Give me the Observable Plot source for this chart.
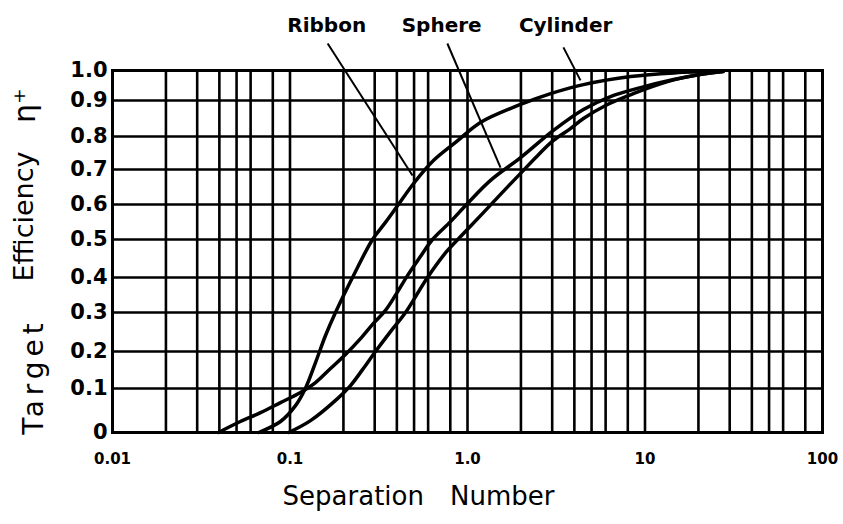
<!DOCTYPE html>
<html>
<head>
<meta charset="utf-8">
<script src="https://cdn.jsdelivr.net/npm/d3@7"></script>
<script src="https://cdn.jsdelivr.net/npm/@observablehq/plot@0.6"></script>
<style>
  body { margin: 0; background: #fff; }
  #chart svg { font-family: "DejaVu Sans", sans-serif; }
</style>
</head>
<body>
<div id="chart"></div>
<script>
// ---- data ----
const ribbonX = [0.0666, 0.0884, 0.1074, 0.122, 0.1392, 0.1585, 0.1804, 0.225, 0.2917, 0.345, 0.408, 0.497, 0.643, 0.856, 1.183, 1.99, 2.94, 4.5, 8.3, 14.6, 27.6];
const ribbonY = [0, 0.025, 0.061, 0.10, 0.170, 0.241, 0.30, 0.40, 0.50, 0.549, 0.60, 0.66, 0.727, 0.782, 0.839, 0.889, 0.923, 0.953, 0.98, 0.992, 0.998];

const sphereX = [0.0395, 0.0525, 0.0682, 0.0884, 0.1146, 0.1392, 0.1691, 0.2054, 0.2496, 0.2953, 0.345, 0.398, 0.459, 0.543, 0.635, 0.802, 1.0, 1.348, 1.99, 3.05, 4.5, 6.39, 9.43, 14.5, 20.5, 27.6];
const sphereY = [0, 0.025, 0.045, 0.068, 0.091, 0.116, 0.154, 0.192, 0.233, 0.272, 0.306, 0.354, 0.405, 0.455, 0.50, 0.551, 0.603, 0.669, 0.736, 0.817, 0.875, 0.913, 0.943, 0.97, 0.987, 0.997];

const cylinderX = [0.0982, 0.1305, 0.1852, 0.2193, 0.2562, 0.3031, 0.3684, 0.4475, 0.595, 0.7615, 0.9495, 1.199, 1.535, 1.99, 2.48, 3.05, 3.80, 4.5, 6.15, 8.61, 13.4, 20.5, 27.6];
const cylinderY = [0, 0.027, 0.077, 0.108, 0.151, 0.20, 0.251, 0.30, 0.40, 0.468, 0.517, 0.571, 0.629, 0.689, 0.742, 0.788, 0.822, 0.85, 0.889, 0.923, 0.963, 0.987, 0.997];

// curve labels and their leader lines (data coordinates)
const labelNames = ["Ribbon", "Sphere", "Cylinder"];
const labelX = [0.161, 0.715, 3.57];
const labelY = [1.15, 1.15, 1.15];
const leaderX1 = [0.163, 0.77, 3.47];
const leaderY1 = [1.09, 1.09, 1.077];
const leaderX2 = [0.49, 1.535, 4.33];
const leaderY2 = [0.683, 0.706, 0.967];

// grid / ticks
const xGrid = [0.01,0.02,0.03,0.04,0.05,0.06,0.08, 0.1,0.2,0.3,0.4,0.5,0.6,0.8, 1,2,3,4,5,6,8, 10,20,30,40,50,60,80, 100];
const xTicks = [0.01, 0.1, 1, 10, 100];
const xTickLabels = ["0.01", "0.1", "1.0", "10", "100"];
const yTicks = [0, 0.1, 0.2, 0.3, 0.4, 0.5, 0.6, 0.7, 0.8, 0.9, 1.0];
const yTickLabels = ["0", "0.1", "0.2", "0.3", "0.4", "0.5", "0.6", "0.7", "0.8", "0.9", "1.0"];

const xTitle = "Separation\u2003Number";
const yTitleWords = ["Target", "Efficiency", "η⁺"];

// ---- build ----
const series = [
  ...ribbonX.map((x, i) => ({x, y: ribbonY[i], s: "Ribbon"})),
  ...sphereX.map((x, i) => ({x, y: sphereY[i], s: "Sphere"})),
  ...cylinderX.map((x, i) => ({x, y: cylinderY[i], s: "Cylinder"}))
];
const leaders = labelNames.map((n, i) => ({x1: leaderX1[i], y1: leaderY1[i], x2: leaderX2[i], y2: leaderY2[i]}));
const labels = labelNames.map((n, i) => ({x: labelX[i], y: labelY[i], t: n}));

// hand-drawn, slightly uneven vertical spacing of the grid (pixel rows of each 0.1 line)
const yRange = [432, 388, 351, 312, 277, 239, 204, 169, 136, 100, 70];

const chart = Plot.plot({
  width: 843,
  height: 524,
  marginLeft: 112,
  marginRight: 21,
  marginTop: 70,
  marginBottom: 92,
  x: {type: "log", domain: [0.01, 100], axis: null},
  y: {type: "linear", domain: yTicks, range: yRange, axis: null},
  marks: [
    Plot.ruleX(xGrid, {stroke: "black", strokeWidth: 2.6}),
    Plot.ruleY(yTicks, {stroke: "black", strokeWidth: 2.6}),
    Plot.frame({stroke: "black", strokeWidth: 3}),
    Plot.line(series, {x: "x", y: "y", z: "s", stroke: "black", strokeWidth: 3.5, curve: "catmull-rom"}),
    Plot.link(leaders, {x1: "x1", y1: "y1", x2: "x2", y2: "y2", stroke: "black", strokeWidth: 2}),
    Plot.text(labels, {x: "x", y: "y", text: "t", fontSize: 20, fontWeight: "bold", fill: "black"}),
    Plot.text(xTicks, {x: d => d, text: (d, i) => xTickLabels[i], frameAnchor: "bottom", lineAnchor: "middle", dy: 27, fontSize: 15, fontWeight: "bold", fill: "black"}),
    Plot.text(yTicks, {y: d => d, text: (d, i) => yTickLabels[i], frameAnchor: "left", textAnchor: "end", lineAnchor: "middle", dx: -5, fontSize: 21, fontWeight: "bold", fill: "black"}),
    Plot.text([xTitle], {frameAnchor: "bottom", textAnchor: "middle", lineAnchor: "middle", dx: -49, dy: 64, fontSize: 26, fill: "black"}),
    Plot.text([yTitleWords[0]], {frameAnchor: "left", textAnchor: "middle", lineAnchor: "middle", rotate: -90, dx: -78, dy: 125, fontSize: 28, fill: "black", ariaLabel: () => "ytitle-target"}),
    Plot.text([yTitleWords[1]], {frameAnchor: "left", textAnchor: "middle", lineAnchor: "middle", rotate: -90, dx: -88, dy: -35, fontSize: 27, fill: "black"}),
    Plot.text([yTitleWords[2]], {frameAnchor: "left", textAnchor: "middle", lineAnchor: "middle", rotate: -90, dx: -87, dy: -146, fontSize: 30, fill: "black"})
  ]
});
d3.select(chart).selectAll("text")
  .filter(function () { return this.textContent === yTitleWords[0]; })
  .attr("letter-spacing", "5px");
document.getElementById("chart").appendChild(chart);
</script>
</body>
</html>
